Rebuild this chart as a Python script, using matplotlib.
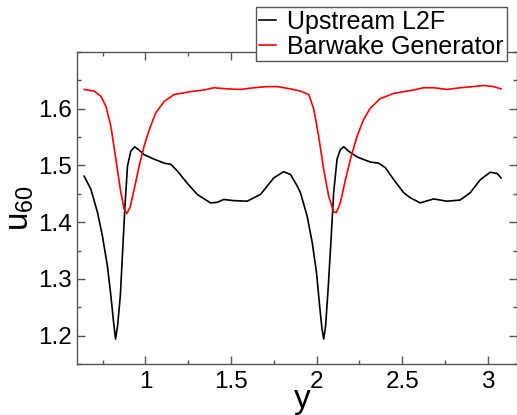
import matplotlib
matplotlib.use("Agg")
import matplotlib.pyplot as plt
from matplotlib.ticker import MultipleLocator, FixedLocator, FixedFormatter

plt.rcParams["font.family"] = ["Liberation Sans", "DejaVu Sans"]
plt.rcParams["mathtext.default"] = "regular"

# Upstream L2F profile
y_l2f = [0.642, 0.681, 0.720, 0.749, 0.778, 0.798, 0.814, 0.825, 0.837, 0.853,
         0.866, 0.880, 0.895, 0.914, 0.937, 0.963, 0.992, 1.051, 1.110, 1.148,
         1.187, 1.243, 1.302, 1.380, 1.419, 1.457, 1.515, 1.594, 1.672, 1.749,
         1.807, 1.847, 1.886, 1.905, 1.944, 1.974, 1.999, 2.017, 2.031, 2.041,
         2.052, 2.068, 2.084, 2.099, 2.119, 2.138, 2.158, 2.187, 2.236, 2.313,
         2.362, 2.401, 2.450, 2.508, 2.547, 2.605, 2.683, 2.761, 2.838, 2.897,
         2.956, 3.014, 3.053, 3.077]
u_l2f = [1.481, 1.458, 1.417, 1.375, 1.322, 1.270, 1.223, 1.194, 1.217, 1.270,
         1.346, 1.428, 1.499, 1.525, 1.533, 1.527, 1.519, 1.511, 1.504, 1.502,
         1.490, 1.469, 1.449, 1.434, 1.435, 1.440, 1.438, 1.437, 1.449, 1.478,
         1.489, 1.484, 1.464, 1.452, 1.411, 1.364, 1.311, 1.253, 1.212, 1.194,
         1.217, 1.288, 1.370, 1.452, 1.511, 1.528, 1.533, 1.525, 1.515, 1.506,
         1.504, 1.496, 1.475, 1.452, 1.443, 1.434, 1.441, 1.437, 1.439, 1.452,
         1.475, 1.488, 1.486, 1.478]

# Barwake generator profile
y_bwg = [0.642, 0.701, 0.739, 0.768, 0.798, 0.827, 0.853, 0.875, 0.890, 0.910,
         0.934, 0.963, 0.992, 1.022, 1.060, 1.110, 1.167, 1.204, 1.282, 1.341,
         1.399, 1.477, 1.555, 1.633, 1.711, 1.769, 1.847, 1.905, 1.954, 1.983,
         2.011, 2.041, 2.070, 2.099, 2.115, 2.138, 2.168, 2.197, 2.236, 2.274,
         2.313, 2.372, 2.450, 2.488, 2.566, 2.624, 2.683, 2.761, 2.838, 2.916,
         2.975, 3.034, 3.077]
u_bwg = [1.634, 1.631, 1.622, 1.605, 1.569, 1.511, 1.458, 1.423, 1.415, 1.426,
         1.458, 1.499, 1.534, 1.563, 1.593, 1.613, 1.625, 1.627, 1.631, 1.633,
         1.637, 1.635, 1.634, 1.637, 1.639, 1.639, 1.635, 1.631, 1.625, 1.599,
         1.552, 1.493, 1.446, 1.418, 1.417, 1.434, 1.475, 1.511, 1.552, 1.581,
         1.601, 1.618, 1.627, 1.629, 1.633, 1.637, 1.637, 1.634, 1.637, 1.639,
         1.641, 1.639, 1.635]

series_labels = ["Upstream L2F", "Barwake Generator"]
x_ticks = [1.0, 1.5, 2.0, 2.5, 3.0]
x_tick_labels = ["1", "1.5", "2", "2.5", "3"]
u_ticks = [1.2, 1.3, 1.4, 1.5, 1.6]
u_tick_labels = ["1.2", "1.3", "1.4", "1.5", "1.6"]

W, H = 517, 415
fig = plt.figure(figsize=(W / 100, H / 100), dpi=100)
ax = fig.add_axes([77 / W, 1 - 364 / H, (517 - 77) / W, (364 - 52) / H])

ax.plot(y_l2f, u_l2f, color="black", lw=1.2, label=series_labels[0],
        solid_joinstyle="round")
ax.plot(y_bwg, u_bwg, color="#ff0000", lw=1.2, label=series_labels[1],
        solid_joinstyle="round")

ax.set_xlim(0.6, 3.17)
ax.set_ylim(1.15, 1.70)

ax.xaxis.set_major_locator(FixedLocator(x_ticks))
ax.xaxis.set_major_formatter(FixedFormatter(x_tick_labels))
ax.yaxis.set_major_locator(FixedLocator(u_ticks))
ax.yaxis.set_major_formatter(FixedFormatter(u_tick_labels))
ax.xaxis.set_minor_locator(MultipleLocator(0.25))
ax.yaxis.set_minor_locator(MultipleLocator(0.05))

edge = "#555555"
for s in ax.spines.values():
    s.set_color(edge)
    s.set_linewidth(1.0)
ax.tick_params(which="both", direction="in", top=True, right=True,
               color=edge, width=1.0, labelsize=17.5, labelcolor="black")
ax.tick_params(which="major", length=6)
ax.tick_params(which="minor", length=3)
ax.tick_params(axis="x", pad=5)
ax.tick_params(axis="y", pad=4)

ax.set_xlabel("y", fontsize=24)
ax.set_ylabel("u$_{60}$", fontsize=24)
ax.xaxis.set_label_coords(0.511, -0.064)
ax.yaxis.set_label_coords(-0.094, 0.5)

leg = fig.legend(loc="upper right", bbox_to_anchor=(507 / W, 1 - 7 / H),
                 bbox_transform=fig.transFigure, borderaxespad=0,
                 fontsize=18, frameon=True, fancybox=False, framealpha=1,
                 edgecolor=edge, handlelength=0.7, handletextpad=0.45,
                 borderpad=0.12, labelspacing=0.02)
leg.get_frame().set_linewidth(1.0)

fig.savefig("out.png", dpi=100)
